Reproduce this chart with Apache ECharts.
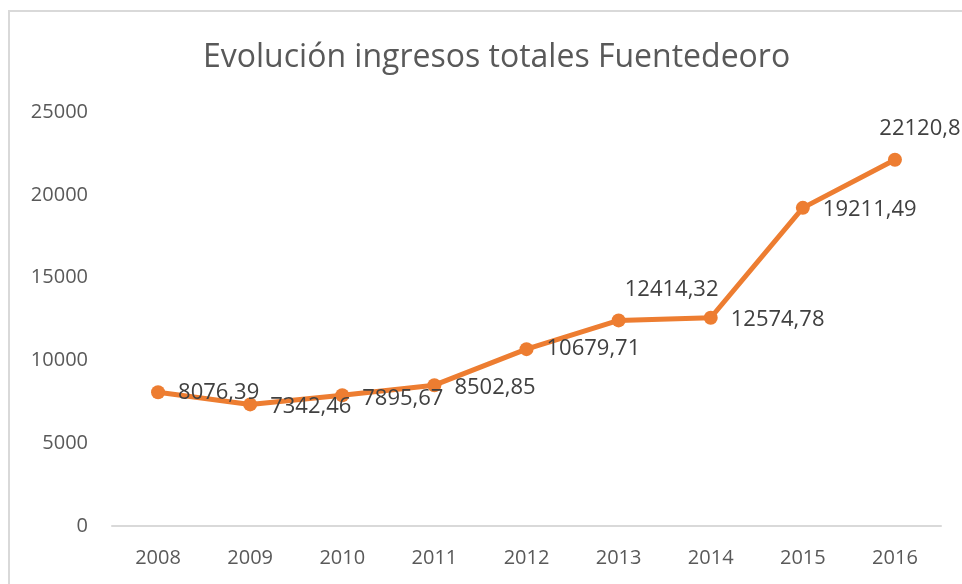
<!DOCTYPE html>
<html lang="es">
<head>
    <meta charset="UTF-8">
    <title>Evolución ingresos totales Fuentedeoro</title>
    <script src="https://cdn.jsdelivr.net/npm/echarts@6/dist/echarts.min.js"></script>
    <style>
        html, body { margin: 0; padding: 0; background: #fff; }
        #chart { width: 962px; height: 584px; }
    </style>
</head>
<body>
    <div id="chart"></div>
    <script>
        // datos
        const years = ['2008', '2009', '2010', '2011', '2012', '2013', '2014', '2015', '2016'];
        const ingresos = [8076.39, 7342.46, 7895.67, 8502.85, 10679.71, 12414.32, 12574.78, 19211.49, 22120.8];
        const yTicks = [0, 5000, 10000, 15000, 20000, 25000];

        const font = '"Open Sans", "Liberation Sans", sans-serif';
        const toComma = v => String(v).replace('.', ',');

        // posición de cada etiqueta como en la hoja original
        const labelPos = ['right', 'right', 'right', 'right', 'right', 'top', 'right', 'right', 'top'];
        const labelOffset = [[0, 0], [0, 2], [0, 3], [0, 3], [0, 0], [53, 0], [0, 2], [0, 2], [25, 0]];

        const chart = echarts.init(document.getElementById('chart'));
        chart.setOption({
            backgroundColor: '#fff',
            title: {
                text: 'Evolución ingresos totales Fuentedeoro',
                left: 198,
                top: 37,
                textStyle: { fontFamily: font, fontSize: 32, fontWeight: 'normal', color: '#595959' }
            },
            graphic: [{
                type: 'rect',
                shape: { x: 9, y: 11, width: 1000, height: 700 },
                style: { fill: 'none', stroke: '#d9d9d9', lineWidth: 2 },
                silent: true
            }],
            grid: { left: 112, right: 21, top: 112, bottom: 58 },
            xAxis: {
                type: 'category',
                data: years,
                axisLine: { lineStyle: { color: '#d9d9d9', width: 2 } },
                axisTick: { show: false },
                axisLabel: { fontFamily: font, fontSize: 20, color: '#595959', margin: 22 }
            },
            yAxis: {
                type: 'value',
                min: yTicks[0],
                max: yTicks[yTicks.length - 1],
                interval: 5000,
                axisLine: { show: false },
                axisTick: { show: false },
                splitLine: { show: false },
                axisLabel: {
                    fontFamily: font, fontSize: 20, color: '#595959', margin: 24,
                    formatter: v => String(v)
                }
            },
            series: [{
                type: 'line',
                data: ingresos.map((v, i) => ({
                    value: v,
                    label: { position: labelPos[i], offset: labelOffset[i] }
                })),
                symbol: 'circle',
                symbolSize: 14,
                itemStyle: { color: '#ED7D31' },
                lineStyle: { color: '#ED7D31', width: 5 },
                label: {
                    show: true,
                    distance: 13,
                    fontFamily: font,
                    fontSize: 22,
                    color: '#404040',
                    formatter: p => toComma(p.value)
                },
                animation: false
            }]
        });
    </script>
</body>
</html>
